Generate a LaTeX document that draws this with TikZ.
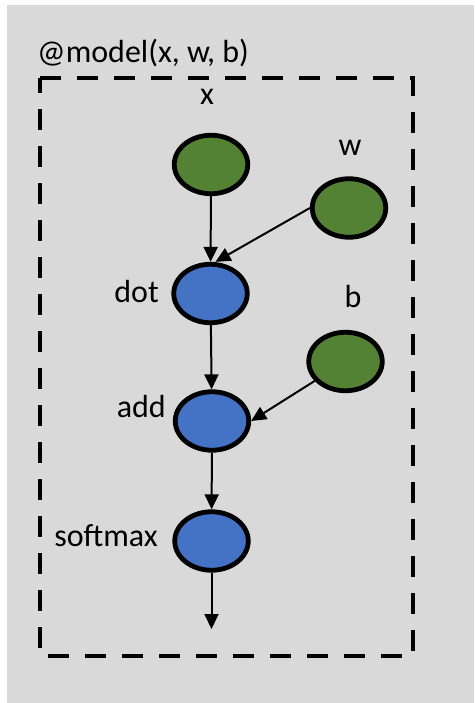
\documentclass[tikz,border=0pt]{standalone}
\usepackage{fontspec}
\setmainfont{Carlito}
\usetikzlibrary{shapes.geometric,arrows.meta,calc}
\definecolor{bggray}{HTML}{D9D9D9}
\definecolor{ingreen}{HTML}{548235}
\definecolor{opblue}{HTML}{4472C4}
\begin{document}
\begin{tikzpicture}[x=1pt,y=-1pt,
  lbl/.style={font=\fontsize{32}{38}\selectfont, inner sep=0pt},
  opnode/.style={ellipse, draw=black, line width=4.8pt, minimum width=73.5pt, minimum height=58.5pt, inner sep=0pt},
  innode/.style={opnode, fill=ingreen},
  calcnode/.style={opnode, fill=opblue},
  flow/.style={-{Triangle[length=15pt,width=14pt]}, line width=2pt}
]
\useasboundingbox (0,0) rectangle (474,703);
\fill[white] (0,0) rectangle (474,703);
\fill[bggray] (7,5) rectangle (474,703);

% frame
\draw[line width=4pt, dash pattern=on 21pt off 16pt] (40,78) -- (413,78) -- (413,656) -- (40,656) -- cycle;
\node[lbl, anchor=base west] (title) at (37,63) {@model(x, w, b)};

% nodes
\node[innode] (x) at (211,164.5) {};
\node[innode] (w) at (349,208) {};
\node[calcnode] (dot) at (210.5,293.5) {};
\node[innode] (b) at (345.5,361.5) {};
\node[calcnode] (add) at (212,421) {};
\node[calcnode] (softmax) at (211.5,541) {};
\coordinate (out) at (211.5,629);

% labels
\node[lbl, anchor=base] (xl) at (207,105) {x};
\node[lbl, anchor=base] (wl) at (350,156) {w};
\node[lbl, anchor=base] (bl) at (353,307) {b};
\node[lbl, anchor=base east] (dotl) at (159,302) {dot};
\node[lbl, anchor=base east] (addl) at (166,417) {add};
\node[lbl, anchor=base east] (softmaxl) at (158,546) {softmax};

% connectors
\draw[flow] (x) -- (dot);
\draw[flow] (w.west) -- ([xshift=5pt]dot.north);
\draw[flow] (dot) -- (add);
\draw[flow] (b) -- (add.east);
\draw[flow] (add) -- (softmax);
\draw[flow] (softmax) -- (out);
\end{tikzpicture}
\end{document}
